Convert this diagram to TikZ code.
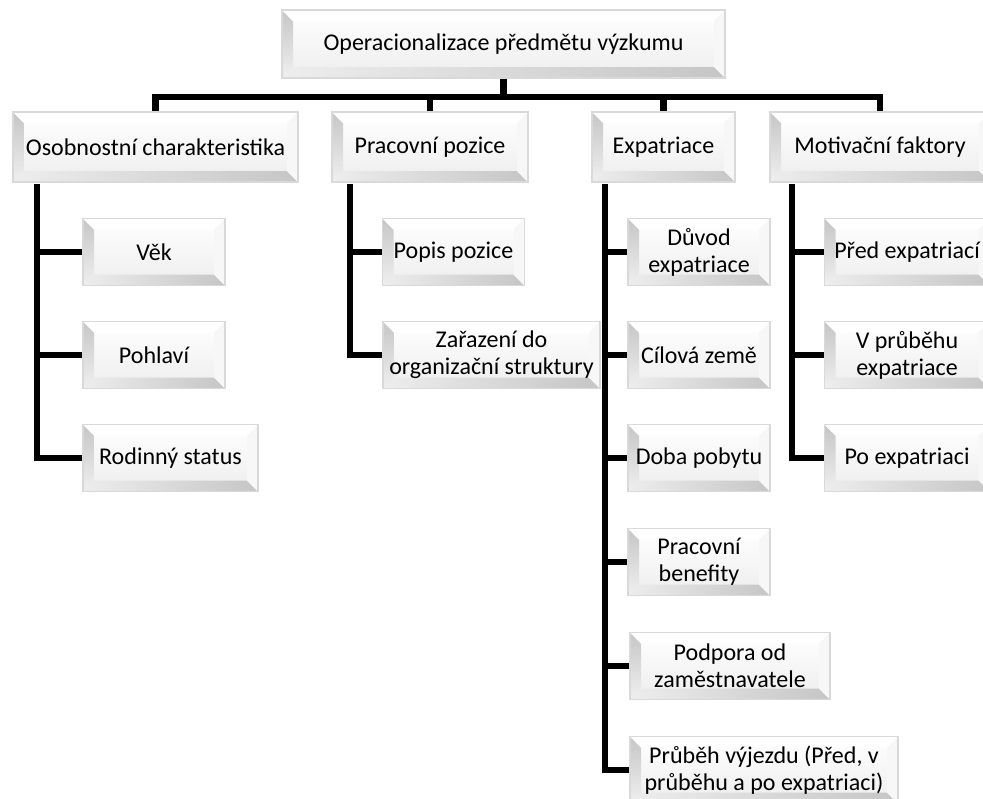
\documentclass[tikz,border=0pt]{standalone}
\usepackage{fontspec}
\setmainfont{Carlito}
\usepackage{tikz}
\usetikzlibrary{calc}

\newcommand\boxfont{\fontsize{20.5}{23}\selectfont}
\def\bv{0.33cm}

\tikzset{
  boxw/.style={minimum width=#1*0.03cm},
  bevelbox/.style={
    rectangle, draw=gray!30, line width=1pt, inner sep=0pt,
    top color=white, bottom color=gray!14,
    align=center, font=\boxfont,
    path picture={
      % left and bottom bevels darker, top and right lighter
      \shade[top color=gray!45, bottom color=gray!12]
        (path picture bounding box.south west) -- (path picture bounding box.north west)
        -- ([shift={(\bv,-\bv)}]path picture bounding box.north west)
        -- ([shift={(\bv,\bv)}]path picture bounding box.south west) -- cycle;
      \shade[left color=gray!14, right color=gray!45]
        (path picture bounding box.south west) -- (path picture bounding box.south east)
        -- ([shift={(-\bv,\bv)}]path picture bounding box.south east)
        -- ([shift={(\bv,\bv)}]path picture bounding box.south west) -- cycle;
      \fill[white]
        (path picture bounding box.north west) -- (path picture bounding box.north east)
        -- ([shift={(-\bv,-\bv)}]path picture bounding box.north east)
        -- ([shift={(\bv,-\bv)}]path picture bounding box.north west) -- cycle;
      \fill[gray!6]
        (path picture bounding box.north east) -- (path picture bounding box.south east)
        -- ([shift={(-\bv,\bv)}]path picture bounding box.south east)
        -- ([shift={(-\bv,-\bv)}]path picture bounding box.north east) -- cycle;
    }},
  rootbox/.style={bevelbox, boxw=443, minimum height=68*0.03cm},
  catbox/.style={bevelbox, minimum height=70*0.03cm},
  itembox/.style={bevelbox, boxw=142, minimum height=67*0.03cm},
  link/.style={line width=0.19cm, line join=miter}
}

\begin{document}
\begin{tikzpicture}[x=0.03cm, y=-0.03cm]
  \useasboundingbox (0,0) rectangle (983,798);

  % Root and categories
  \node[rootbox] (root) at (503.5,44) {Operacionalizace předmětu výzkumu};

  \node[catbox, boxw=285] (osob)  at (155.5,147) {Osobnostní charakteristika};
  \node[catbox, boxw=196] (prac)  at (430,147)   {Pracovní pozice};
  \node[catbox, boxw=143] (expat) at (663.5,147) {Expatriace};
  \node[catbox, boxw=220] (motiv) at (880,147)   {Motivační faktory};

  % Items
  \node[itembox] (vek)     at (154,252)   {Věk};
  \node[itembox] (pohlavi) at (154,355)   {Pohlaví};
  \node[itembox, boxw=175] (rodina) at (170.5,458) {Rodinný status};

  \node[itembox] (popis)   at (453.5,252) {Popis pozice};
  \node[itembox, boxw=217] (zarazeni) at (491.5,355) {Zařazení do\\organizační struktury};

  \node[itembox] (duvod)    at (699,252) {Důvod\\expatriace};
  \node[itembox] (zeme)     at (699,355) {Cílová země};
  \node[itembox] (doba)     at (699,458) {Doba pobytu};
  \node[itembox] (benefity) at (699,562) {Pracovní\\benefity};
  \node[itembox, boxw=200] (podpora) at (730,666) {Podpora od\\zaměstnavatele};
  \node[itembox, boxw=268] (vyjezd)  at (764,770) {Průběh výjezdu (Před, v\\průběhu a po expatriaci)};

  \node[itembox, boxw=165] (pred)  at (907,252) {Před expatriací};
  \node[itembox, boxw=165] (behem) at (907,355) {V průběhu\\expatriace};
  \node[itembox, boxw=165] (po)    at (907,458) {Po expatriaci};

  % Bar under the root
  \coordinate (bar) at (503.5,97);
  \draw[link] (root.south) -- (bar);
  \foreach \c in {osob,prac,expat,motiv}
    \draw[link] (bar) -| (\c.north);

  % Trunks under the categories
  \coordinate (osobtrunk)  at (37,184);
  \coordinate (practrunk)  at (350,184);
  \coordinate (expattrunk) at (605,184);
  \coordinate (motivtrunk) at (792,184);

  \foreach \c in {vek,pohlavi,rodina}
    \draw[link] (osobtrunk) |- (\c.west);
  \foreach \c in {popis,zarazeni}
    \draw[link] (practrunk) |- (\c.west);
  \foreach \c in {duvod,zeme,doba,benefity,podpora,vyjezd}
    \draw[link] (expattrunk) |- (\c.west);
  \foreach \c in {pred,behem,po}
    \draw[link] (motivtrunk) |- (\c.west);
\end{tikzpicture}
\end{document}
